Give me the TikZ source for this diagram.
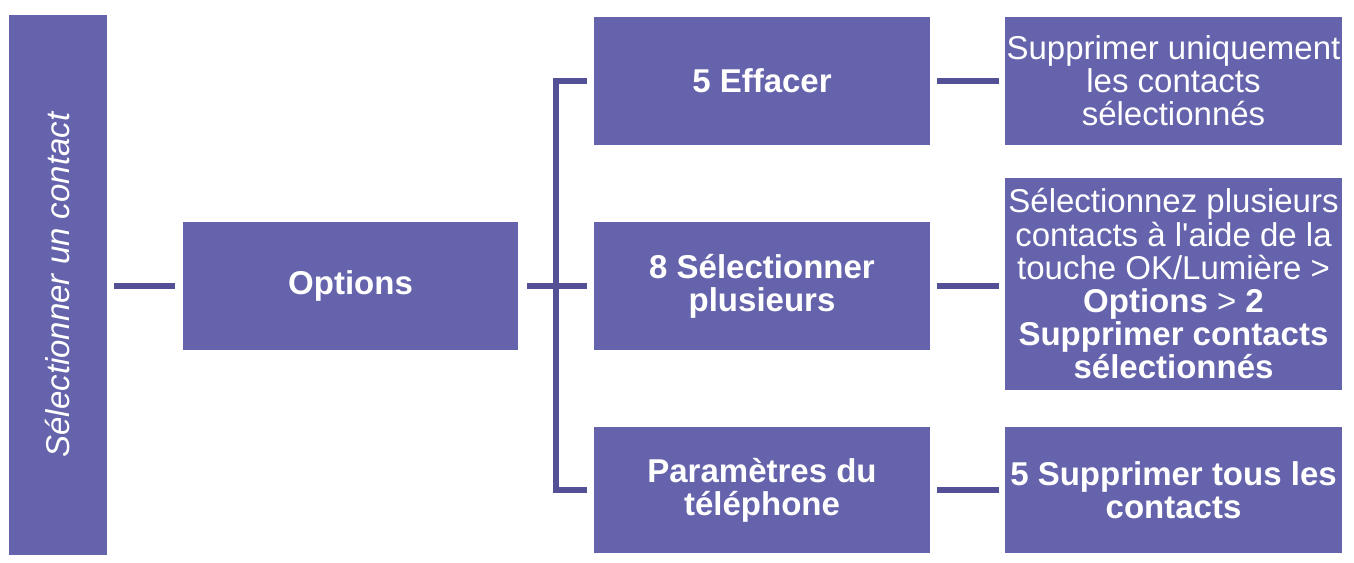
\documentclass[tikz,border=0pt]{standalone}
\usepackage{fontspec}
\setmainfont{Liberation Sans}[Ligatures=TeXOff]
\definecolor{boxfill}{RGB}{101,99,172}
\definecolor{linkcol}{RGB}{84,80,150}
\begin{document}
\begin{tikzpicture}[x=0.5pt,y=-0.5pt,
    box/.style={fill=boxfill,draw=none,text=white,inner sep=0pt,align=center,
        font=\fontsize{16.5}{16.6}\selectfont,minimum width=168pt,minimum height=64pt},
    link/.style={draw=linkcol,line width=3pt}]
    \useasboundingbox (0,0) rectangle (1354,562);
    % boxes
    \node[box,rotate=90,minimum width=270pt,minimum height=49pt,font=\fontsize{16.5}{16.6}\selectfont\itshape] (sel) at (58,285) {Sélectionner un contact};
    \node[box,minimum width=167.5pt,font=\fontsize{16.5}{16.6}\selectfont\bfseries] (opt) at (350.5,286) {Options};
    \node[box,font=\fontsize{16.5}{16.6}\selectfont\bfseries] (eff) at (762,81) {5 Effacer};
    \node[box,font=\fontsize{16.5}{16.6}\selectfont\bfseries] (plu) at (762,286) {8 Sélectionner\\plusieurs};
    \node[box,minimum height=63pt,font=\fontsize{16.5}{16.6}\selectfont\bfseries] (par) at (762,490) {Paramètres du\\téléphone};
    \node[box,minimum width=168.5pt] (sup) at (1173.5,81) {Supprimer uniquement\\les contacts\\sélectionnés};
    \node[box,minimum width=168.5pt,minimum height=106pt] (mul) at (1173.5,284) {Sélectionnez plusieurs\\contacts à l'aide de la\\touche OK/Lumière >\\\textbf{Options} > \textbf{2}\\\textbf{Supprimer contacts}\\\textbf{sélectionnés}};
    \node[box,minimum width=168.5pt,minimum height=63pt,font=\fontsize{16.5}{16.6}\selectfont\bfseries] (tous) at (1173.5,490) {5 Supprimer tous les\\contacts};
    % connectors
    \coordinate (bus) at (556,286);
    \draw[link,shorten <=3.5pt,shorten >=4pt] (sel.south |- bus) -- (bus -| opt.west);
    \draw[link,shorten <=4.5pt,shorten >=3.5pt] (bus -| opt.east) -- (plu.west);
    \draw[link,shorten <=3.5pt,shorten >=3.5pt] (eff.west) -| (bus) |- (par.west);
    \draw[link,shorten <=3.5pt,shorten >=3pt] (eff.east) -- (sup.west);
    \draw[link,shorten <=3.5pt,shorten >=3pt] (plu.east) -- (plu.east -| mul.west);
    \draw[link,shorten <=3.5pt,shorten >=3pt] (par.east) -- (tous.west);
\end{tikzpicture}
\end{document}
